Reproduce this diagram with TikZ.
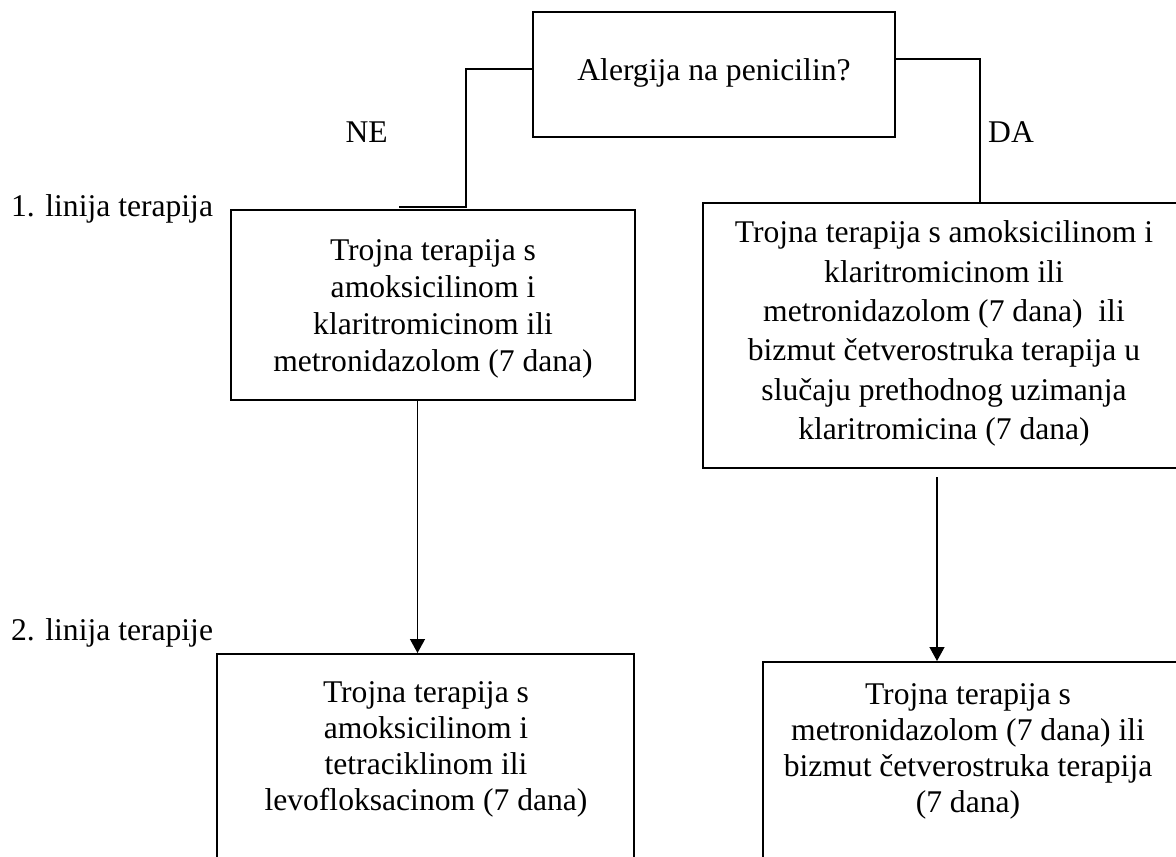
\documentclass[tikz,border=0pt]{standalone}
\usepackage{fontspec}
\setmainfont{Liberation Serif}
\usetikzlibrary{arrows.meta}
\begin{document}
\begin{tikzpicture}[x=1pt,y=-1pt,
  box/.style={draw=black,line width=2pt,rectangle,inner sep=0pt},
  txt/.style={font=\fontsize{31.6}{#1}\selectfont,align=center,inner sep=0pt},
  lbl/.style={font=\fontsize{31.6}{37}\selectfont,inner sep=0pt},
  conn/.style={draw=black,line width=1.2pt},
  arr/.style={draw=black,line width=1.3pt,-{Triangle[width=15pt,length=14pt]}}]
\useasboundingbox (0,0) rectangle (1176,857);
% boxes
\node[box,minimum width=362pt,minimum height=125pt] (tb) at (714,74.5) {};
\node[box,minimum width=404pt,minimum height=190pt] (lb) at (433,305) {};
\node[box,minimum width=482pt,minimum height=265pt] (rb) at (944,335.5) {};
\node[box,minimum width=417pt,minimum height=230pt] (lb2) at (425.5,769) {};
\node[box,minimum width=420pt,minimum height=230pt] (rb2) at (973,777) {};
% texts
\node[txt=37] (tt) at (714,73) {Alergija na penicilin?};
\node[txt=37.2] (lt) at (433,309) {Trojna terapija s\\amoksicilinom i\\klaritromicinom ili\\metronidazolom (7 dana)};
\node[txt=39.4] (rt) at (944,333.5) {Trojna terapija s amoksicilinom i\\klaritromicinom ili\\metronidazolom (7 dana)~ ili\\bizmut četverostruka terapija u\\slučaju prethodnog uzimanja\\klaritromicina (7 dana)};
\node[txt=36] (lt2) at (426,749) {Trojna terapija s\\amoksicilinom i\\tetraciklinom ili\\levofloksacinom (7 dana)};
\node[txt=36] (rt2) at (968,751) {Trojna terapija s\\metronidazolom (7 dana) ili\\bizmut četverostruka terapija\\(7 dana)};
% side labels
\node[lbl,anchor=base west] (l1) at (11,216) {1. linija terapija};
\node[lbl,anchor=base west] (l2) at (11,640) {2. linija terapije};
\node[lbl,anchor=base east] (ne) at (388,142) {NE};
\node[lbl,anchor=base west] (da) at (988,142) {DA};
% connectors
\coordinate (nebend) at (466,207);
\coordinate (neend) at (399,207);
\draw[conn] ([yshift=5.5pt]tb.west) -| (nebend) -- (neend);
\coordinate (dabend) at (980,59);
\draw[conn] ([yshift=15.5pt]tb.east) -- (dabend) -- (dabend |- rb.north);
\coordinate (la) at (417.5,0);
\draw[arr] (lb.south -| la) -- (lb2.north -| la);
\coordinate (ra) at (937,477);
\draw[arr] (ra) -- (ra |- rb2.north);
\end{tikzpicture}
\end{document}
